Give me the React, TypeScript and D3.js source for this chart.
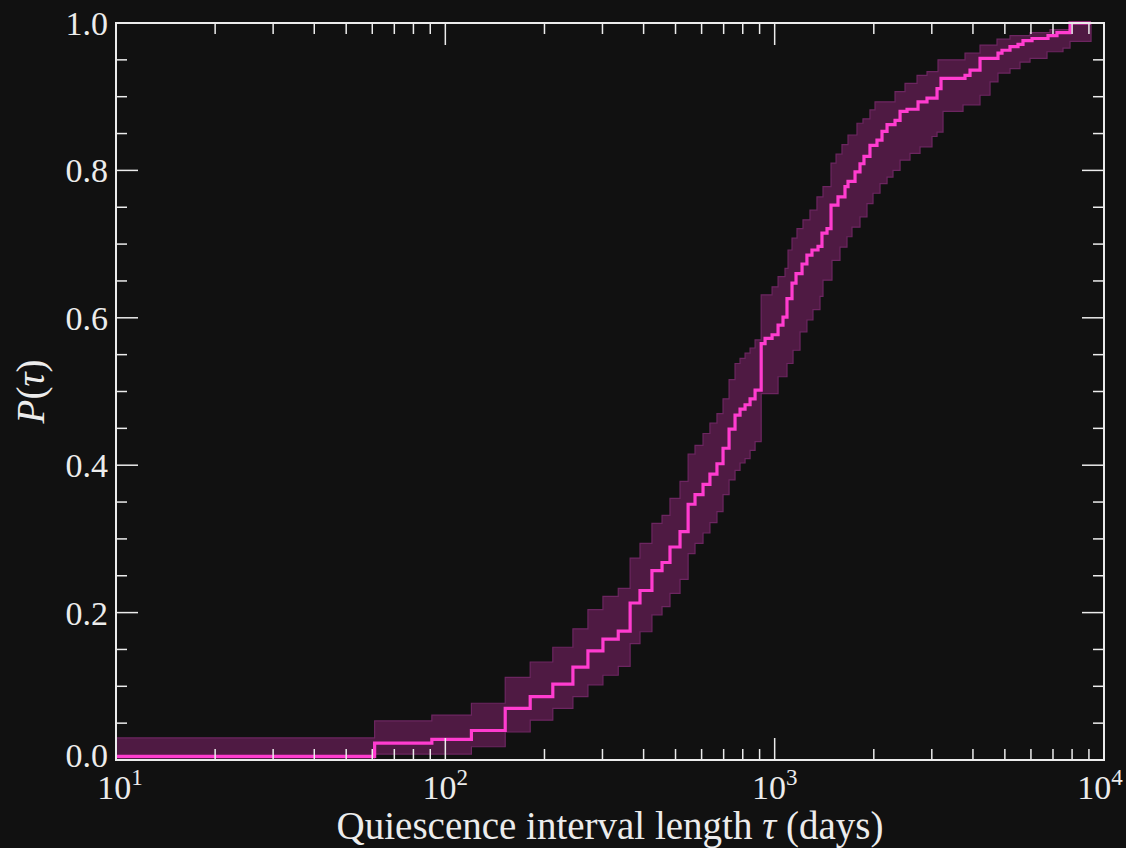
import React, { useEffect } from "react";
import * as d3 from "d3";

// Step function (empirical CDF) — tau in days, P value after each step
const lineTau = [10, 61, 91, 120, 152, 181, 212, 244, 271, 301, 335, 364, 390, 424, 455, 481, 516, 546, 573, 606, 636, 668, 697, 727, 758, 785, 813, 842, 872, 910, 935, 982, 1024, 1060, 1090, 1129, 1161, 1211, 1253, 1298, 1354, 1392, 1442, 1483, 1557, 1635, 1670, 1754, 1816, 1867, 1947, 2045, 2118, 2194, 2320, 2403, 2523, 2725, 2901, 3112, 3200, 3784, 3919, 4203, 4766, 4901, 5183, 5481, 5676, 6046, 6761, 7199, 7886];
const lineP = [0.005, 0.023, 0.028, 0.040, 0.070, 0.086, 0.103, 0.126, 0.148, 0.164, 0.175, 0.213, 0.230, 0.257, 0.268, 0.289, 0.310, 0.347, 0.360, 0.374, 0.388, 0.402, 0.423, 0.449, 0.468, 0.476, 0.482, 0.490, 0.502, 0.565, 0.572, 0.577, 0.590, 0.601, 0.626, 0.647, 0.660, 0.673, 0.685, 0.692, 0.697, 0.715, 0.721, 0.753, 0.764, 0.778, 0.785, 0.798, 0.809, 0.819, 0.834, 0.841, 0.853, 0.862, 0.868, 0.880, 0.883, 0.893, 0.898, 0.911, 0.925, 0.929, 0.936, 0.952, 0.959, 0.963, 0.968, 0.971, 0.976, 0.979, 0.983, 0.987, 1.0];

// Upper edge of confidence band
const upperTau = [10, 61, 91, 120, 152, 181, 212, 244, 271, 301, 335, 364, 390, 424, 455, 481, 516, 546, 573, 606, 636, 668, 697, 727, 758, 785, 813, 842, 872, 910, 982, 1024, 1075, 1098, 1129, 1169, 1219, 1280, 1344, 1402, 1483, 1536, 1601, 1670, 1778, 1854, 1947, 2017, 2320, 2488, 2706, 2901, 3133, 3784, 4203, 4733, 5183, 5962, 6857, 7886];
const upperP = [0.030, 0.053, 0.061, 0.077, 0.112, 0.133, 0.153, 0.178, 0.204, 0.222, 0.233, 0.274, 0.294, 0.321, 0.332, 0.355, 0.378, 0.415, 0.427, 0.443, 0.457, 0.470, 0.490, 0.516, 0.538, 0.545, 0.552, 0.559, 0.570, 0.631, 0.642, 0.656, 0.667, 0.692, 0.708, 0.721, 0.733, 0.746, 0.764, 0.778, 0.810, 0.822, 0.835, 0.848, 0.864, 0.870, 0.882, 0.893, 0.907, 0.918, 0.929, 0.934, 0.950, 0.959, 0.970, 0.978, 0.983, 0.987, 0.991, 1.0];

// Lower edge of confidence band
const lowerTau = [10, 61, 120, 152, 181, 212, 244, 271, 301, 335, 364, 390, 424, 455, 481, 516, 546, 573, 606, 636, 668, 697, 727, 758, 785, 813, 842, 872, 910, 1024, 1090, 1137, 1194, 1253, 1307, 1373, 1402, 1493, 1579, 1658, 1717, 1816, 1907, 1989, 2089, 2194, 2287, 2403, 2576, 2763, 3004, 3112, 3245, 3732, 4203, 4508, 4766, 5183, 5558, 5962, 6714, 7508, 7886];
const lowerP = [0.0, 0.008, 0.018, 0.038, 0.054, 0.070, 0.086, 0.102, 0.115, 0.127, 0.158, 0.174, 0.197, 0.208, 0.226, 0.245, 0.280, 0.294, 0.308, 0.322, 0.337, 0.360, 0.380, 0.393, 0.403, 0.409, 0.420, 0.432, 0.497, 0.520, 0.538, 0.556, 0.581, 0.597, 0.611, 0.629, 0.651, 0.678, 0.696, 0.710, 0.723, 0.737, 0.755, 0.769, 0.782, 0.791, 0.800, 0.814, 0.823, 0.832, 0.846, 0.852, 0.880, 0.889, 0.902, 0.920, 0.932, 0.938, 0.947, 0.952, 0.961, 0.966, 0.975];

const tauEnd = 9134;
const xTickExps = [1, 2, 3, 4];
const yTicks = [0, 0.2, 0.4, 0.6, 0.8, 1.0];

const W = 1126, H = 848;
const M = { left: 116, right: 1104, top: 23, bottom: 760 };
const BG = "#111111";
const FG = "#ececec";
const LINE = "#ff3ccf";
const FONT = "'Liberation Serif', 'DejaVu Serif', serif";

function stepAt(taus: number[], ps: number[], t: number) {
  let v = ps[0];
  for (let i = 0; i < taus.length; i++) {
    if (taus[i] <= t) v = ps[i];
  }
  return v;
}

export default function App() {
  useEffect(() => {
    document.body.style.margin = "0";
    document.body.style.background = BG;
  }, []);

  const x = d3.scaleLog().domain([10, 1e4]).range([M.left, M.right]);
  const y = d3.scaleLinear().domain([0, 1]).range([M.bottom, M.top]);

  const linePts: [number, number][] = lineTau.map((t, i) => [t, lineP[i]]);
  linePts.push([tauEnd, lineP[lineP.length - 1]]);
  const lineGen = d3
    .line<[number, number]>()
    .x((d) => x(d[0]))
    .y((d) => y(d[1]))
    .curve(d3.curveStepAfter);

  const bandTaus = Array.from(new Set([...upperTau, ...lowerTau])).sort((a, b) => a - b);
  const bandPts = bandTaus.map((t) => ({ t, lo: stepAt(lowerTau, lowerP, t), hi: stepAt(upperTau, upperP, t) }));
  bandPts.push({ t: tauEnd, lo: lowerP[lowerP.length - 1], hi: upperP[upperP.length - 1] });
  const areaGen = d3
    .area<{ t: number; lo: number; hi: number }>()
    .x((d) => x(d.t))
    .y0((d) => y(d.lo))
    .y1((d) => y(d.hi))
    .curve(d3.curveStepAfter);

  const majorLen = 22, minorLen = 11;
  const xMinor: number[] = [];
  for (let e = 1; e < 4; e++) for (let m = 2; m <= 9; m++) xMinor.push(m * Math.pow(10, e));
  const yMinor: number[] = d3.range(0, 1.0001, 0.05).filter((v) => Math.abs(v * 5 - Math.round(v * 5)) > 1e-6);

  return (
    <svg width={W} height={H} style={{ display: "block", background: BG }}>
      <rect x={0} y={0} width={W} height={H} fill={BG} />
      <path d={areaGen(bandPts) || ""} fill="#4f1a43" stroke="#6c2660" strokeWidth={1.2} />
      <path d={lineGen(linePts) || ""} fill="none" stroke={LINE} strokeWidth={3.2} />

      <g stroke={FG} strokeWidth={1.5}>
        {xTickExps.map((e) => {
          const xv = x(Math.pow(10, e));
          return (
            <g key={"xm" + e}>
              <line x1={xv} x2={xv} y1={M.bottom} y2={M.bottom - majorLen} />
              <line x1={xv} x2={xv} y1={M.top} y2={M.top + majorLen} />
            </g>
          );
        })}
        {xMinor.map((v, i) => (
          <g key={"xn" + i}>
            <line x1={x(v)} x2={x(v)} y1={M.bottom} y2={M.bottom - minorLen} />
            <line x1={x(v)} x2={x(v)} y1={M.top} y2={M.top + minorLen} />
          </g>
        ))}
        {yTicks.map((v) => (
          <g key={"ym" + v}>
            <line x1={M.left} x2={M.left + majorLen} y1={y(v)} y2={y(v)} />
            <line x1={M.right} x2={M.right - majorLen} y1={y(v)} y2={y(v)} />
          </g>
        ))}
        {yMinor.map((v, i) => (
          <g key={"yn" + i}>
            <line x1={M.left} x2={M.left + minorLen} y1={y(v)} y2={y(v)} />
            <line x1={M.right} x2={M.right - minorLen} y1={y(v)} y2={y(v)} />
          </g>
        ))}
      </g>
      <rect
        x={M.left}
        y={M.top}
        width={M.right - M.left}
        height={M.bottom - M.top}
        fill="none"
        stroke={FG}
        strokeWidth={2}
      />

      <g fill={FG} fontFamily={FONT}>
        {yTicks.map((v) => (
          <text key={"yl" + v} x={M.left - 8} y={y(v) - (v === 0 ? 5 : 0)} dy="0.35em" textAnchor="end" fontSize={34}>
            {v.toFixed(1)}
          </text>
        ))}
        {xTickExps.map((e) => (
          <text
            key={"xl" + e}
            x={x(Math.pow(10, e)) + (e === 1 ? 4 : e === 4 ? -4 : 0)}
            y={799}
            textAnchor="middle"
            fontSize={34}
          >
            10
            <tspan dy={-14} fontSize={23}>
              {e}
            </tspan>
          </text>
        ))}
        <text x={(M.left + M.right) / 2} y={839} textAnchor="middle" fontSize={39}>
          Quiescence interval length <tspan fontStyle="italic">τ</tspan> (days)
        </text>
        <text transform={`translate(44, ${(M.top + M.bottom) / 2}) rotate(-90)`} textAnchor="middle" fontSize={39}>
          <tspan fontStyle="italic">P</tspan>(<tspan fontStyle="italic">τ</tspan>)
        </text>
      </g>
    </svg>
  );
}
